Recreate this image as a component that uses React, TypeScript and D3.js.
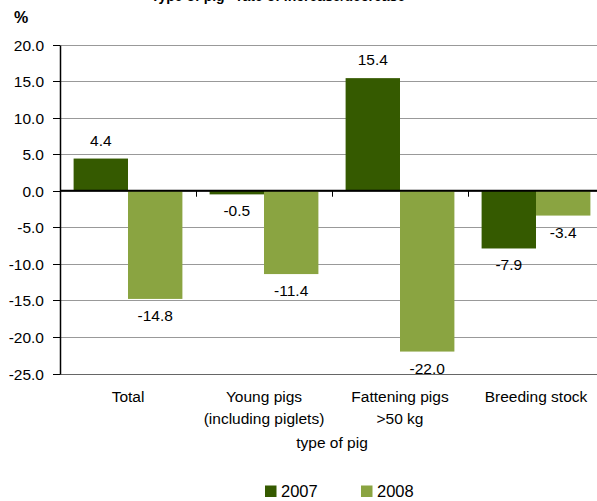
import React from "react";
import * as d3 from "d3";

const categoryKeys = ["Total", "Young pigs", "Fattening pigs", "Breeding stock"];
const categoryLines = [["Total"], ["Young pigs", "(including piglets)"], ["Fattening pigs", ">50 kg"], ["Breeding stock"]];
const seriesNames = ["2007", "2008"];
const values2007 = [4.4, -0.5, 15.4, -7.9];
const values2008 = [-14.8, -11.4, -22.0, -3.4];
const yTicks = [-25, -20, -15, -10, -5, 0, 5, 10, 15, 20];
const colors = ["#355a00", "#8aa441"];
const titleText = "Type of pig - rate of increase/decrease";

const W = 597;
const H = 501;
const FONT = "Liberation Sans, Arial, sans-serif";

export default function App() {
  const x = d3.scaleBand<string>().domain(categoryKeys).range([60, 604]).paddingInner(0).paddingOuter(0);
  const xs = d3.scaleBand<string>().domain(seriesNames).range([0, x.bandwidth()]).paddingInner(0).paddingOuter(0.25);
  const y = d3.scaleLinear().domain([-25, 20]).range([373.5, 44.5]);
  const locale = d3.formatLocale({ decimal: ".", thousands: ",", grouping: [3], currency: ["", ""], minus: "-" });
  const fmt = locale.format(".1f");
  const series = [values2007, values2008];
  const py = (v: number) => Math.round(y(v)) + 0.5;
  const x0 = 60;
  const xEnd = 604;
  const groupEdges = categoryKeys.map((c) => x(c) as number).concat([xEnd]);
  const fs = 15.5;

  return (
    <svg width={W} height={H} style={{ position: "absolute", left: 0, top: 0, background: "#fff" }} fontFamily={FONT}>
      <rect x={0} y={0} width={W} height={H} fill="#fff" />
      <text x={151} y={1} fontSize={14} fontWeight="bold" fill="#000">{titleText}</text>
      <text x={14} y={23} fontSize={16} fontWeight="bold" fill="#000">%</text>

      {yTicks.map((t) => (
        <line key={"g" + t} x1={x0} x2={xEnd} y1={py(t)} y2={py(t)} stroke={t === -25 ? "#666" : "#999"} strokeWidth={1} />
      ))}

      {series.map((vals, si) =>
        vals.map((v, i) => {
          const bx = (x(categoryKeys[i]) as number) + (xs(seriesNames[si]) as number);
          const top = Math.min(y(v), y(0));
          const h = Math.abs(y(v) - y(0));
          return <rect key={si + "-" + i} x={bx} y={top} width={xs.bandwidth()} height={h} fill={colors[si]} />;
        })
      )}

      <line x1={x0} x2={xEnd} y1={y(0)} y2={y(0)} stroke="#000" strokeWidth={2} />
      {groupEdges.map((gx, i) => (
        <line key={"xt" + i} x1={Math.round(gx) + 0.5} x2={Math.round(gx) + 0.5} y1={y(0)} y2={y(0) + 6} stroke="#000" strokeWidth={1} />
      ))}

      <line x1={x0 + 0.5} x2={x0 + 0.5} y1={py(20)} y2={py(-25)} stroke="#000" strokeWidth={1.5} />
      {yTicks.map((t) => (
        <g key={"yt" + t}>
          <line x1={x0 - 7} x2={x0} y1={py(t)} y2={py(t)} stroke="#000" strokeWidth={1} />
          <text x={x0 - 16} y={py(t) + 5.5} fontSize={fs} textAnchor="end" fill="#000">{fmt(t)}</text>
        </g>
      ))}

      {series.map((vals, si) =>
        vals.map((v, i) => {
          const cx = (x(categoryKeys[i]) as number) + (xs(seriesNames[si]) as number) + xs.bandwidth() / 2;
          const ly = v >= 0 ? y(v) - 13 : y(v) + 22;
          return (
            <text key={"l" + si + "-" + i} x={cx} y={ly} fontSize={fs} textAnchor="middle" fill="#000">{fmt(v)}</text>
          );
        })
      )}

      {categoryLines.map((lines, i) => (
        <text key={"c" + i} x={(x(categoryKeys[i]) as number) + x.bandwidth() / 2} y={402} fontSize={fs} textAnchor="middle" fill="#000">
          {lines.map((ln, j) => (
            <tspan key={j} x={(x(categoryKeys[i]) as number) + x.bandwidth() / 2} dy={j === 0 ? 0 : 22}>{ln}</tspan>
          ))}
        </text>
      ))}

      <text x={(x0 + xEnd) / 2} y={448} fontSize={fs} textAnchor="middle" fill="#000">type of pig</text>

      {seriesNames.map((s, i) => (
        <g key={"lg" + s} transform={`translate(${265 + i * 96},0)`}>
          <rect x={0} y={485.5} width={11.5} height={11.5} fill={colors[i]} />
          <text x={16} y={497} fontSize={16.5} fill="#000">{s}</text>
        </g>
      ))}
    </svg>
  );
}
